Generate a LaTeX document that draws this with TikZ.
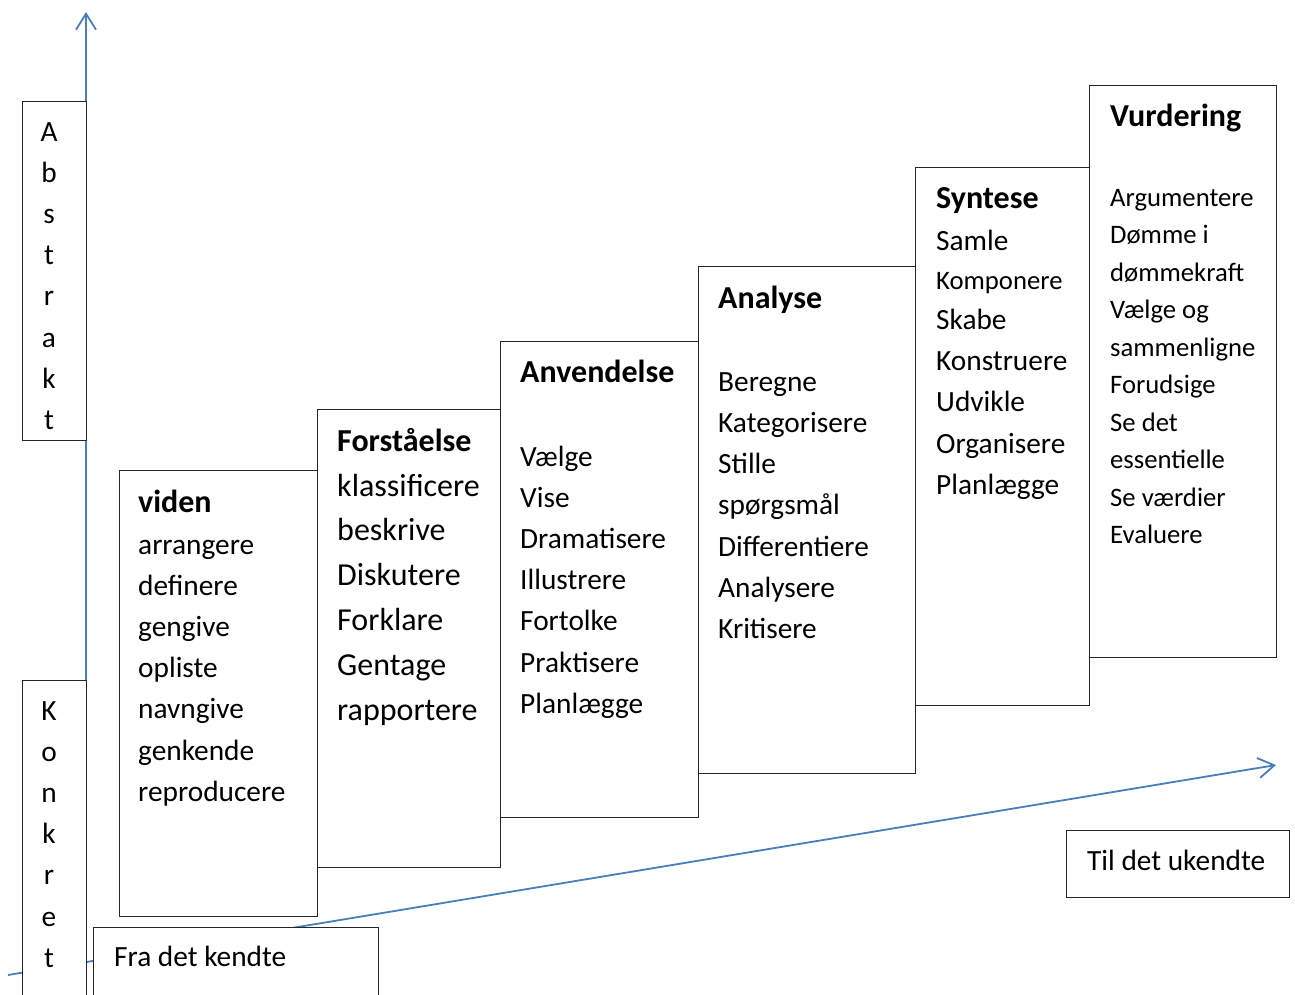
\documentclass[tikz,border=0pt]{standalone}
\usepackage{fontspec}
\setmainfont{Carlito}
\usetikzlibrary{arrows.meta}
\definecolor{axisblue}{HTML}{4A7EBB}
\newcommand\fsT{\fontsize{32}{38}\selectfont\bfseries}
\newcommand\fsL{\fontsize{32}{38}\selectfont}
\newcommand\fsB{\fontsize{29.33}{35}\selectfont}
\newcommand\fsS{\fontsize{26.67}{32}\selectfont}
\tikzset{
  box/.style={draw=black!85, line width=1.4pt, fill=white},
  item/.style={anchor=base west, inner sep=0pt, text=black},
  letter/.style={anchor=base, inner sep=0pt, text=black, font=\fsB},
  axis/.style={draw=axisblue, line width=1.8pt, -{Straight Barb[length=16pt,width=20pt,line width=1.8pt]}},
}
\begin{document}
\begin{tikzpicture}[x=1pt,y=-1pt]
\useasboundingbox (0,0) rectangle (1295,994);
\clip (0,0) rectangle (1295,994);
\fill[white] (0,0) rectangle (1295,994);
% axes
\coordinate (vstart) at (86,1000);
\coordinate (vend) at (86,12);
\coordinate (hstart) at (8,975);
\coordinate (hend) at (1276,765);
\draw[axis] (vstart) -- (vend);
\draw[axis] (hstart) -- (hend);
% side boxes
\node[box, minimum width=64pt, minimum height=339pt, anchor=north west, inner sep=0pt] (abs) at (22,101) {};
\foreach \t [count=\i] in {A,b,s,t,r,a,k,t}
  \node[letter] (abs\i) at (49,{141+(\i-1)*41.2}) {\t};
\node[box, minimum width=64pt, minimum height=340pt, anchor=north west, inner sep=0pt] (kon) at (22,680) {};
\foreach \t [count=\i] in {K,o,n,k,r,e,t}
  \node[letter] (kon\i) at (49,{720+(\i-1)*41.2}) {\t};
% step boxes
\node[box, minimum width=187pt, minimum height=572pt, anchor=north west, inner sep=0pt] (vur) at (1089,85) {};
\node[box, minimum width=174pt, minimum height=538pt, anchor=north west, inner sep=0pt] (syn) at (915,167) {};
\node[box, minimum width=217pt, minimum height=507pt, anchor=north west, inner sep=0pt] (ana) at (698,266) {};
\node[box, minimum width=198pt, minimum height=476pt, anchor=north west, inner sep=0pt] (anv) at (500,341) {};
\node[box, minimum width=183pt, minimum height=458pt, anchor=north west, inner sep=0pt] (for) at (317,409) {};
\node[box, minimum width=198pt, minimum height=446pt, anchor=north west, inner sep=0pt] (vid) at (119,470) {};
% viden
\node[item, font=\fsT] (vidT) at (138,512) {viden};
\foreach \t [count=\i] in {arrangere,definere,gengive,opliste,navngive,genkende,reproducere}
  \node[item, font=\fsB] (vid\i) at (138,{554+(\i-1)*41.2}) {\t};
% Forstaaelse
\node[item, font=\fsT] (forT) at (337,451) {Forståelse};
\foreach \t [count=\i] in {klassificere,beskrive,Diskutere,Forklare,Gentage,rapportere}
  \node[item, font=\fsL] (for\i) at (337,{496+(\i-1)*44.8}) {\t};
% Anvendelse
\node[item, font=\fsT] (anvT) at (520,382) {Anvendelse};
\foreach \t [count=\i] in {Vælge,Vise,Dramatisere,Illustrere,Fortolke,Praktisere,Planlægge}
  \node[item, font=\fsB] (anv\i) at (520,{466+(\i-1)*41.2}) {\t};
% Analyse
\node[item, font=\fsT] (anaT) at (718,308) {Analyse};
\foreach \t [count=\i] in {Beregne,Kategorisere,Stille,spørgsmål,Differentiere,Analysere,Kritisere}
  \node[item, font=\fsB] (ana\i) at (718,{391+(\i-1)*41.3}) {\t};
% Syntese
\node[item, font=\fsT] (synT) at (936,208) {Syntese};
\node[item, font=\fsB] (syn1) at (936,250) {Samle};
\node[item, font=\fsS] (syn2) at (936,289) {Komponere};
\node[item, font=\fsB] (syn3) at (936,329) {Skabe};
\node[item, font=\fsB] (syn4) at (936,370) {Konstruere};
\node[item, font=\fsB] (syn5) at (936,411) {Udvikle};
\node[item, font=\fsB] (syn6) at (936,453) {Organisere};
\node[item, font=\fsB] (syn7) at (936,494) {Planlægge};
% Vurdering
\node[item, font=\fsT] (vurT) at (1110,126) {Vurdering};
\foreach \t [count=\i] in {Argumentere,Dømme i,dømmekraft,Vælge og,sammenligne,Forudsige,Se det,essentielle,Se værdier,Evaluere}
  \node[item, font=\fsS] (vur\i) at (1110,{206+(\i-1)*37.5}) {\t};
% end labels
\node[box, minimum width=223pt, minimum height=67pt, anchor=north west, inner sep=0pt] (til) at (1066,830) {};
\node[item, font=\fsB] (tilT) at (1087,870) {Til det ukendte};
\node[box, minimum width=285pt, minimum height=90pt, anchor=north west, inner sep=0pt] (fra) at (93,927) {};
\node[item, font=\fsB] (fraT) at (114,966) {Fra det kendte};
\end{tikzpicture}
\end{document}
